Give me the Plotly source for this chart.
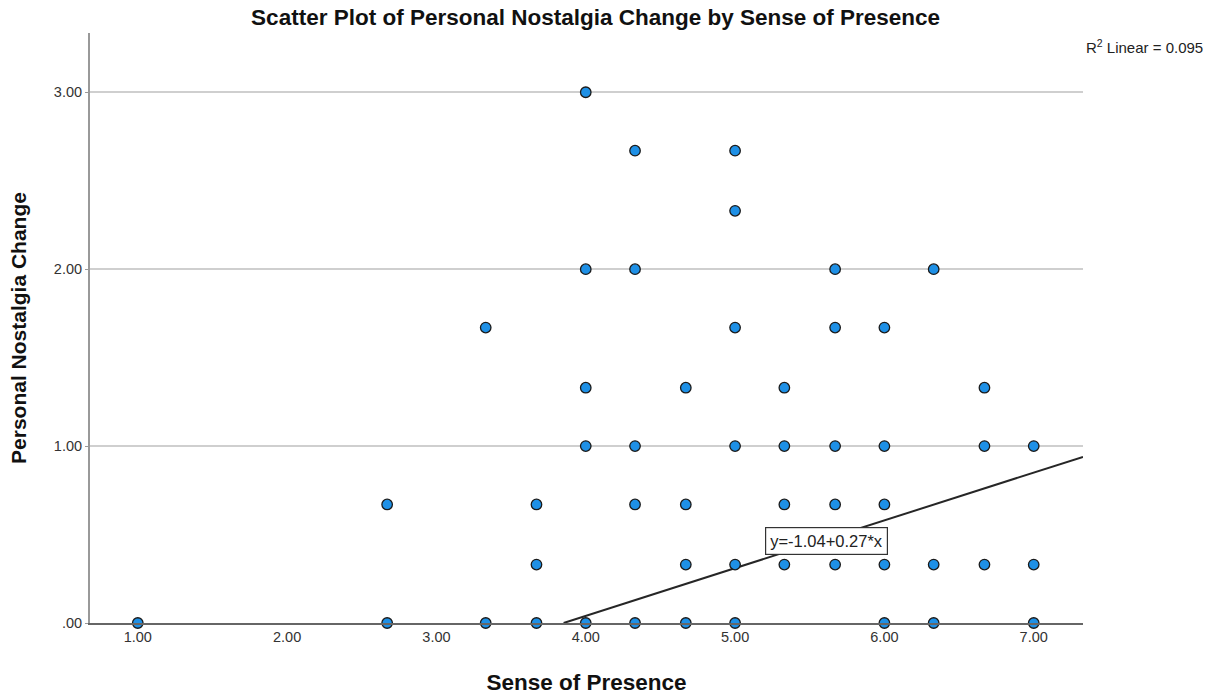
import plotly.graph_objects as go
import numpy as np

# Data (Sense of Presence, Personal Nostalgia Change)
presence = [1.00,
            2.67, 2.67,
            3.33, 3.33,
            3.67, 3.67, 3.67,
            4.00, 4.00, 4.00, 4.00, 4.00,
            4.33, 4.33, 4.33, 4.33, 4.33,
            4.67, 4.67, 4.67, 4.67,
            5.00, 5.00, 5.00, 5.00, 5.00, 5.00,
            5.33, 5.33, 5.33, 5.33,
            5.67, 5.67, 5.67, 5.67, 5.67,
            6.00, 6.00, 6.00, 6.00, 6.00,
            6.33, 6.33, 6.33,
            6.67, 6.67, 6.67,
            7.00, 7.00, 7.00]
nostalgia = [0.00,
             0.00, 0.67,
             0.00, 1.67,
             0.00, 0.33, 0.67,
             0.00, 1.00, 1.33, 2.00, 3.00,
             0.00, 0.67, 1.00, 2.00, 2.67,
             0.00, 0.33, 0.67, 1.33,
             0.00, 0.33, 1.00, 1.67, 2.33, 2.67,
             0.33, 0.67, 1.00, 1.33,
             0.33, 0.67, 1.00, 1.67, 2.00,
             0.00, 0.33, 0.67, 1.00, 1.67,
             0.00, 0.33, 2.00,
             0.33, 1.00, 1.33,
             0.00, 0.33, 1.00]

intercept = -1.04
slope = 0.27
r2 = 0.095

x_ticks = [1, 2, 3, 4, 5, 6, 7]
x_tick_labels = ["1.00", "2.00", "3.00", "4.00", "5.00", "6.00", "7.00"]
y_ticks = [0, 1, 2, 3]
y_tick_labels = [".00", "1.00", "2.00", "3.00"]

x_range = [0.68, 7.33]
y_range = [0, 3.335]

font = "Liberation Sans, Arial, sans-serif"

fig = go.Figure()

# Fit line, clipped to y >= 0
x_start = -intercept / slope
fx = [x_start, x_range[1]]
fy = [intercept + slope * v for v in fx]
fig.add_trace(go.Scatter(x=fx, y=fy, mode="lines",
                         line=dict(color="#262626", width=2),
                         hoverinfo="skip", showlegend=False, cliponaxis=True))

fig.add_trace(go.Scatter(x=presence, y=nostalgia, mode="markers",
                         marker=dict(size=10.5, color="#1E90E6",
                                     line=dict(color="#1a1a1a", width=1.3)),
                         showlegend=False, cliponaxis=False))

fig.add_annotation(x=5.61, y=0.463, xref="x", yref="y",
                   text="y=-1.04+0.27*x", showarrow=False,
                   font=dict(family=font, size=16.5, color="#222"),
                   bgcolor="white", bordercolor="#333", borderwidth=1.2,
                   borderpad=4)

fig.add_annotation(x=1.0, y=1.0, xref="paper", yref="paper",
                   xanchor="left", yanchor="top", xshift=1, yshift=-2,
                   text="R<sup>2</sup> Linear = " + f"{r2:.3f}",
                   showarrow=False,
                   font=dict(family=font, size=15, color="#222"))

fig.update_layout(
    width=1218, height=698,
    margin=dict(l=90, r=135, t=33, b=75),
    paper_bgcolor="white", plot_bgcolor="white",
    title=dict(text="<b>Scatter Plot of Personal Nostalgia Change by Sense of Presence</b>",
               x=0.489, xanchor="center", y=0.975, yanchor="middle",
               font=dict(family=font, size=22.5, color="#111")),
    font=dict(family=font, color="#222"),
    xaxis=dict(range=x_range, tickvals=x_ticks, ticktext=x_tick_labels,
               showgrid=False, zeroline=False, showline=True,
               linecolor="#666", linewidth=2, ticks="", automargin=False,
               tickfont=dict(size=14.5, color="#333"),
               title=dict(text="<b>Sense of Presence</b>",
                          font=dict(family=font, size=22.5, color="#111"),
                          standoff=30)),
    yaxis=dict(range=y_range, tickvals=y_ticks, ticktext=y_tick_labels,
               showgrid=True, gridcolor="#cfcfcf", gridwidth=2,
               zeroline=False, showline=True, linecolor="#999",
               linewidth=2, ticks="outside", ticklen=3, tickcolor="#999",
               automargin=False,
               tickfont=dict(size=14.5, color="#333"),
               title=dict(text="<b>Personal Nostalgia Change</b>",
                          font=dict(family=font, size=21, color="#111"),
                          standoff=22)),
)

fig.write_html("out.html")
